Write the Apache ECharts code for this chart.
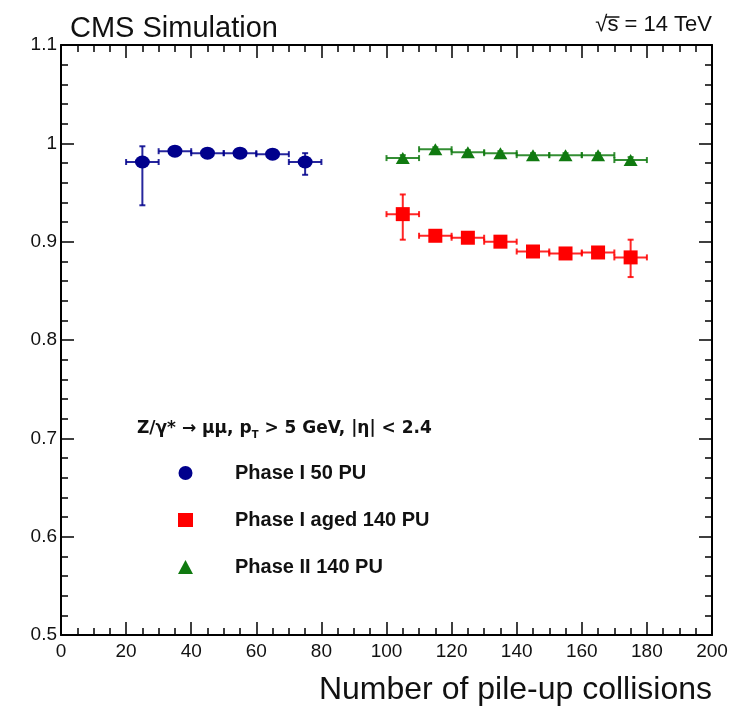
<!DOCTYPE html>
<html>
<head>
<meta charset="utf-8">
<script src="https://cdn.jsdelivr.net/npm/echarts@6/dist/echarts.min.js"></script>
<style>
  html, body { margin: 0; padding: 0; background: #fff; }
  #chart { width: 745px; height: 706px; }
</style>
</head>
<body>
<div id="chart"></div>
<script>
// Muon reconstruction efficiency vs. number of pile-up collisions
const binHalfWidth = 5;

const phase1x = [25, 35, 45, 55, 65, 75];
const phase1y = [0.981, 0.992, 0.990, 0.990, 0.989, 0.981];
const phase1errLo = [0.044, 0.002, 0.002, 0.002, 0.002, 0.013];
const phase1errHi = [0.016, 0.002, 0.002, 0.002, 0.002, 0.009];

const agedX = [105, 115, 125, 135, 145, 155, 165, 175];
const agedY = [0.928, 0.906, 0.904, 0.900, 0.890, 0.888, 0.889, 0.884];
const agedErrLo = [0.026, 0.003, 0.003, 0.003, 0.003, 0.003, 0.003, 0.020];
const agedErrHi = [0.020, 0.003, 0.003, 0.003, 0.003, 0.003, 0.003, 0.018];

const phase2x = [105, 115, 125, 135, 145, 155, 165, 175];
const phase2y = [0.985, 0.994, 0.991, 0.990, 0.988, 0.988, 0.988, 0.983];
const phase2errLo = [0.003, 0.002, 0.002, 0.002, 0.002, 0.002, 0.002, 0.003];
const phase2errHi = [0.003, 0.002, 0.002, 0.002, 0.002, 0.002, 0.002, 0.003];

const seriesNames = ['Phase I 50 PU', 'Phase I aged 140 PU', 'Phase II 140 PU'];
const seriesColors = ['#00008c', '#ff0000', '#107a10'];
const xTickMin = 0, xTickMax = 200, xTickStep = 20;
const yTickMin = 0.5, yTickMax = 1.1, yTickStep = 0.1;

const FONT = '"Liberation Sans", Helvetica, Arial, sans-serif';
const INK = '#111';

function points(xs, ys) { return xs.map((x, i) => [x, ys[i]]); }
function errRows(xs, ys, lo, hi) { return xs.map((x, i) => [x, ys[i], lo[i], hi[i]]); }

// draws the bin-width bar and the asymmetric vertical uncertainty for one point
function errorBarRenderer(color) {
  return function (params, api) {
    const x = api.value(0), y = api.value(1), lo = api.value(2), hi = api.value(3);
    const left = api.coord([x - binHalfWidth, y]);
    const right = api.coord([x + binHalfWidth, y]);
    const top = api.coord([x, y + hi]);
    const bottom = api.coord([x, y - lo]);
    const cap = 3;
    const style = { stroke: color, lineWidth: 2, opacity: 0.85 };
    const line = (x1, y1, x2, y2) => ({ type: 'line', shape: { x1, y1, x2, y2 }, style });
    return {
      type: 'group',
      children: [
        line(left[0], left[1], right[0], right[1]),
        line(left[0], left[1] - cap, left[0], left[1] + cap),
        line(right[0], right[1] - cap, right[0], right[1] + cap),
        line(top[0], top[1], bottom[0], bottom[1]),
        line(top[0] - cap, top[1], top[0] + cap, top[1]),
        line(bottom[0] - cap, bottom[1], bottom[0] + cap, bottom[1])
      ]
    };
  };
}

// frame lines stay on the grid edges (never snapped to the zero of the other axis)
const axisLine = { show: true, onZero: false, lineStyle: { color: '#000', width: 2 } };
const tickStyle = { show: true, inside: true, length: 13, lineStyle: { color: '#000', width: 1.5 } };
const minorStyle = { show: true, length: 7, lineStyle: { color: '#000', width: 1.5 } };
const labelStyle = { fontFamily: FONT, fontSize: 19, color: INK };

const chart = echarts.init(document.getElementById('chart'), null, { renderer: 'canvas' });

// width of the "√" glyph, used to place the overline above "s"
const energyFont = '22px ' + FONT;
const measureCtx = document.createElement('canvas').getContext('2d');
measureCtx.font = energyFont;
const energyText = '√s = 14 TeV';
const fullW = measureCtx.measureText(energyText).width;
const rootW = measureCtx.measureText('√').width;
const rootSW = measureCtx.measureText('√s').width;
const energyRight = 712;
const energyLeft = energyRight - fullW;

chart.setOption({
  animation: false,
  backgroundColor: '#fff',
  grid: { left: 61, right: 33, top: 45, bottom: 69, containLabel: false },
  title: [
    { text: 'CMS Simulation', left: 65, top: 9, textStyle: { fontFamily: FONT, fontSize: 29, fontWeight: 'normal', color: INK } },
    {
      text: '{n|Z/γ* → μμ, p}{s|T}{n| > 5 GeV, |η| < 2.4}',
      left: 132, top: 413,
      textStyle: {
        rich: {
          n: { fontFamily: '"DejaVu Sans", sans-serif', fontSize: 17, fontWeight: 'bold', color: INK },
          s: { fontFamily: '"DejaVu Sans", sans-serif', fontSize: 10, fontWeight: 'bold', color: INK, padding: [12, 0, 0, 0] }
        }
      }
    }
  ],
  graphic: [
    { type: 'text', left: energyLeft, top: 14, style: { text: energyText, font: energyFont, fill: INK } },
    { type: 'line', shape: { x1: energyLeft + rootW - 2, y1: 17, x2: energyLeft + rootSW + 1, y2: 17 }, style: { stroke: INK, lineWidth: 1.5 } }
  ],
  legend: {
    orient: 'vertical',
    left: 173, top: 458,
    itemWidth: 15, itemHeight: 14,
    itemGap: 27,
    data: seriesNames,
    itemStyle: { opacity: 1 },
    textStyle: { fontFamily: FONT, fontSize: 20, fontWeight: 'bold', color: INK, lineHeight: 20, padding: [0, 0, 0, 37] }
  },
  xAxis: [
    {
      type: 'value', min: xTickMin, max: xTickMax, interval: xTickStep, position: 'bottom',
      axisLine, axisTick: tickStyle, minorTick: { ...minorStyle, splitNumber: 4 }, splitLine: { show: false },
      axisLabel: { ...labelStyle, margin: 7 },
      name: 'Number of pile-up collisions', nameLocation: 'end', nameGap: 0,
      nameTextStyle: { fontFamily: FONT, fontSize: 32, color: INK, align: 'right', verticalAlign: 'top', padding: [39, 0, 0, 0] }
    },
    {
      type: 'value', min: xTickMin, max: xTickMax, interval: xTickStep, position: 'top',
      axisLine, axisTick: tickStyle, minorTick: { ...minorStyle, splitNumber: 4 }, splitLine: { show: false },
      axisLabel: { show: false }
    }
  ],
  yAxis: [
    {
      type: 'value', min: yTickMin, max: yTickMax, interval: yTickStep, position: 'left',
      axisLine, axisTick: tickStyle, minorTick: { ...minorStyle, splitNumber: 5 }, splitLine: { show: false },
      axisLabel: { ...labelStyle, margin: 4, formatter: v => String(parseFloat(v.toFixed(1))) }
    },
    {
      type: 'value', min: yTickMin, max: yTickMax, interval: yTickStep, position: 'right',
      axisLine, axisTick: tickStyle, minorTick: { ...minorStyle, splitNumber: 5 }, splitLine: { show: false },
      axisLabel: { show: false }
    }
  ],
  series: [
    { type: 'custom', name: 'err1', data: errRows(phase1x, phase1y, phase1errLo, phase1errHi), renderItem: errorBarRenderer(seriesColors[0]), z: 2, silent: true },
    { type: 'custom', name: 'err2', data: errRows(agedX, agedY, agedErrLo, agedErrHi), renderItem: errorBarRenderer(seriesColors[1]), z: 2, silent: true },
    { type: 'custom', name: 'err3', data: errRows(phase2x, phase2y, phase2errLo, phase2errHi), renderItem: errorBarRenderer(seriesColors[2]), z: 2, silent: true },
    { type: 'scatter', name: seriesNames[0], data: points(phase1x, phase1y), symbol: 'circle', symbolSize: [15, 13], itemStyle: { color: seriesColors[0], opacity: 1 }, z: 3 },
    { type: 'scatter', name: seriesNames[1], data: points(agedX, agedY), symbol: 'rect', symbolSize: 14, itemStyle: { color: seriesColors[1], opacity: 1 }, z: 3 },
    { type: 'scatter', name: seriesNames[2], data: points(phase2x, phase2y), symbol: 'triangle', symbolSize: [14, 12], itemStyle: { color: seriesColors[2], opacity: 1 }, z: 3 }
  ]
});
</script>
</body>
</html>
